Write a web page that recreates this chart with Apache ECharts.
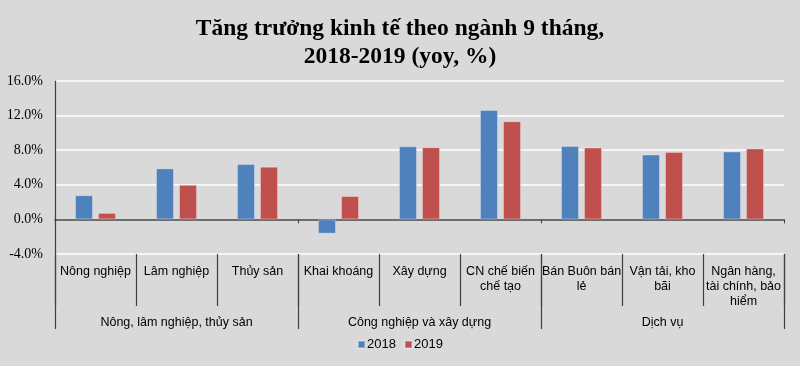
<!DOCTYPE html>
<html><head><meta charset="utf-8">
<script src="https://cdn.jsdelivr.net/npm/echarts@6/dist/echarts.min.js"></script>
<style>html,body{margin:0;padding:0;background:#d9d9d9}#c{width:800px;height:366px}</style>
</head><body><div id="c"></div>
<script>
const categories = ["Nông nghiệp","Lâm nghiệp","Thủy sản","Khai khoáng","Xây dựng","CN chế biến chế tạo","Bán Buôn bán lẻ","Vận tải, kho bãi","Ngân hàng, tài chính, bảo hiểm"];
const categoryLabels = ["Nông nghiệp","Lâm nghiệp","Thủy sản","Khai khoáng","Xây dựng","CN chế biến\nchế tạo","Bán Buôn bán\nlẻ","Vận tải, kho\nbãi","Ngân hàng,\ntài chính, bảo\nhiểm"];
const groups = ["Nông, lâm nghiệp, thủy sản","Công nghiệp và xây dựng","Dịch vụ"];
const values2018 = [2.8, 5.9, 6.4, -1.65, 8.45, 12.65, 8.5, 7.5, 7.85];
const values2019 = [0.75, 4.0, 6.1, 2.7, 8.35, 11.35, 8.3, 7.8, 8.2];
const yTicks = {min: -4, max: 16, interval: 4};

const chart = echarts.init(document.getElementById('c'));
const axisColor = '#404040';
chart.setOption({
  backgroundColor: '#d9d9d9',
  animation: false,
  title: {
    text: 'Tăng trưởng kinh tế theo ngành 9 tháng,\n2018-2019 (yoy, %)',
    left: 'center', top: 10,
    textStyle: {fontFamily: 'Liberation Serif', fontWeight: 'bold', fontSize: 23.5, lineHeight: 28, color: '#000'}
  },
  legend: {
    bottom: 10, left: 'center', icon: 'rect', itemWidth: 7, itemHeight: 7, itemGap: 8,
    textStyle: {fontFamily: 'Liberation Sans', fontSize: 13, color: '#000', padding: [0,0,0,-3]},
    data: ['2018','2019']
  },
  grid: {left: 55, right: 16, top: 81, bottom: 112, containLabel: false},
  xAxis: [
    {type: 'category', data: categories,
     axisLine: {onZero: true, lineStyle: {color: axisColor, width: 1.5}},
     axisTick: {show: true, length: 4, lineStyle: {color: axisColor}},
     axisLabel: {show: false}, splitLine: {show: false}},
    {type: 'category', data: categories, position: 'bottom',
     axisLine: {show: false, onZero: false},
     axisTick: {show: true, length: 52, interval: 0, lineStyle: {color: axisColor, width: 1.2}},
     axisLabel: {interval: 0, margin: 10, fontFamily: 'Liberation Sans', fontSize: 12.5, lineHeight: 15, color: '#000',
       formatter: (v, i) => categoryLabels[i]}},
    {type: 'category', data: groups, position: 'bottom',
     axisLine: {show: false, onZero: false},
     axisTick: {show: true, length: 75, interval: 0, lineStyle: {color: axisColor, width: 1.2}},
     axisLabel: {interval: 0, margin: 62, fontFamily: 'Liberation Sans', fontSize: 12.5, color: '#000'}}
  ],
  yAxis: {
    type: 'value', min: yTicks.min, max: yTicks.max, interval: yTicks.interval,
    axisLine: {show: true, lineStyle: {color: axisColor, width: 1.2}},
    axisTick: {show: false},
    splitLine: {lineStyle: {color: '#ffffff', width: 1.5}},
    axisLabel: {margin: 12, fontFamily: 'Liberation Serif', fontSize: 14, color: '#000',
      formatter: v => v.toFixed(1) + '%'}
  },
  series: [
    {name: '2018', type: 'bar', data: values2018, barWidth: 18, barGap: '28%',
     itemStyle: {color: '#4f81bd', borderColor: 'rgba(255,255,255,0.3)', borderWidth: 1}},
    {name: '2019', type: 'bar', data: values2019, barWidth: 18, barGap: '28%',
     itemStyle: {color: '#c0504d', borderColor: 'rgba(255,255,255,0.3)', borderWidth: 1}}
  ]
});
</script></body></html>
